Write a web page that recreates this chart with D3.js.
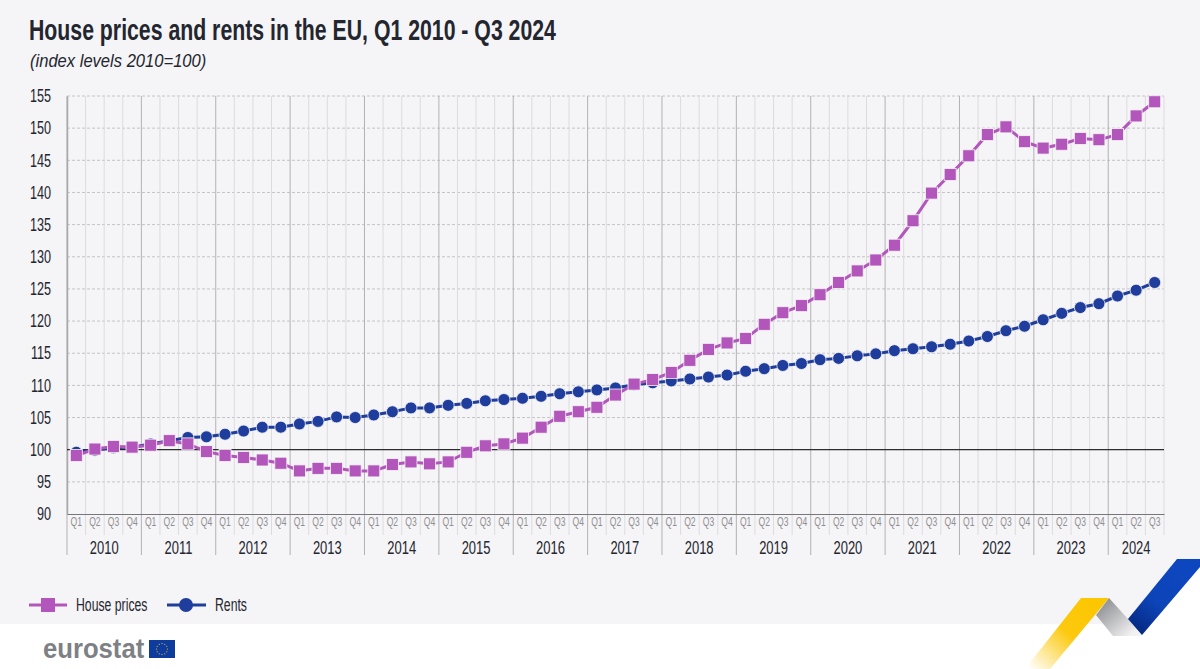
<!DOCTYPE html>
<html>
<head>
<meta charset="utf-8">
<script src="https://cdn.jsdelivr.net/npm/d3@7"></script>
<style>
    html, body { margin: 0; padding: 0; background: #fff; }
    svg { display: block; }
    text { font-family: "Liberation Sans", sans-serif; }
</style>
</head>
<body>
<svg id="chart"></svg>
<script>
const width = 1200;
const height = 669;

const years = ["2010", "2011", "2012", "2013", "2014", "2015", "2016", "2017", "2018", "2019", "2020", "2021", "2022", "2023", "2024"];
const quarterNames = ["Q1", "Q2", "Q3", "Q4"];
const yTicks = [90, 95, 100, 105, 110, 115, 120, 125, 130, 135, 140, 145, 150, 155];

const housePrices = [
    99.1, 100.1, 100.5, 100.4,
    100.7, 101.4, 100.9, 99.7,
    99.1, 98.8, 98.4, 97.9,
    96.7, 97.1, 97.1, 96.7,
    96.7, 97.7, 98.1, 97.8,
    98.1, 99.6, 100.6, 100.9,
    101.8, 103.5, 105.2, 105.9,
    106.6, 108.5, 110.2, 110.9,
    112.0, 113.9, 115.6, 116.6,
    117.3, 119.5, 121.3, 122.4,
    124.1, 126.0, 127.8, 129.5,
    131.8, 135.6, 139.9, 142.8,
    145.7, 149.0, 150.2, 147.9,
    146.9, 147.5, 148.4, 148.2,
    149.0, 151.9, 154.1
];
const rents = [
    99.6, 99.9, 100.3, 100.4,
    100.9, 101.4, 101.9, 102.0,
    102.4, 102.9, 103.5, 103.5,
    104.0, 104.4, 105.1, 105.0,
    105.4, 105.9, 106.5, 106.5,
    106.9, 107.2, 107.6, 107.8,
    108.0, 108.3, 108.7, 109.0,
    109.3, 109.6, 110.1, 110.4,
    110.7, 111.0, 111.3, 111.6,
    112.2, 112.6, 113.1, 113.4,
    114.0, 114.2, 114.6, 114.9,
    115.4, 115.7, 116.0, 116.4,
    116.9, 117.6, 118.5, 119.2,
    120.2, 121.2, 122.1, 122.7,
    123.9, 124.8, 126.0
];

const houseColour = "#b256bb";
const rentColour = "#1f3d9c";
const textColour = "#23262f";
const paper = "#f5f4f6";

// one band per quarter, the last year stops at Q3
const quarters = housePrices.map((d, i) => years[Math.floor(i / 4)] + "-" + quarterNames[i % 4]);

const margin = { top: 96, right: 36, bottom: 155, left: 67 };
const plotRight = width - margin.right;
const plotBottom = height - margin.bottom;

const xScale = d3.scaleBand().domain(quarters).range([margin.left, plotRight]);
const yScale = d3.scaleLinear().domain([90, 155]).range([plotBottom, margin.top]);

const svg = d3.select("#chart").attr("width", width).attr("height", height);

// no condensed font is installed, so squeeze the glyphs to the measured width
function narrow(selection, k) {
    selection.each(function () {
        this.setAttribute("textLength", this.getComputedTextLength() * k);
        this.setAttribute("lengthAdjust", "spacingAndGlyphs");
    });
}

// background and ribbon
const defs = svg.append("defs");

function addGradient(id, x1, y1, x2, y2, stops) {
    const g = defs.append("linearGradient")
        .attr("id", id)
        .attr("gradientUnits", "userSpaceOnUse")
        .attr("x1", x1).attr("y1", y1).attr("x2", x2).attr("y2", y2);
    stops.forEach(s => g.append("stop").attr("offset", s[0]).attr("stop-color", s[1]));
}
addGradient("yellow-grad", 1095, 600, 1030, 669, [[0, "#fcc600"], [0.45, "#fcc90f"], [1, "#ffffff"]]);
addGradient("grey-grad", 1098, 600, 1130, 636, [[0, "#85868a"], [1, "#f2f2f3"]]);
addGradient("blue-grad", 1190, 560, 1135, 632, [[0, "#0d47c0"], [0.6, "#0c44b8"], [1, "#06287f"]]);

svg.append("rect").attr("width", width).attr("height", height).attr("fill", "#ffffff");
svg.append("path")
    .attr("d", "M0,0H1200V567L1142,635L1109,624H0Z")
    .attr("fill", paper);

svg.append("path").attr("d", "M1109,598L1096,615L1113,636H1142L1128,619Z").attr("fill", "url(#grey-grad)");
svg.append("path").attr("d", "M1081,598H1109L1050,669H1025Z").attr("fill", "url(#yellow-grad)");
svg.append("path").attr("d", "M1177,559H1200V567L1142,635L1128,619Z").attr("fill", "url(#blue-grad)");

// grid
const grid = svg.append("g");
grid.selectAll(".h-grid")
    .data(yTicks.filter(d => d !== 90 && d !== 100))
    .join("line")
    .attr("class", "h-grid")
    .attr("x1", margin.left).attr("x2", plotRight)
    .attr("y1", d => yScale(d)).attr("y2", d => yScale(d))
    .attr("stroke", "#c4c4c6")
    .attr("stroke-width", 1)
    .attr("stroke-dasharray", "3 2");

grid.selectAll(".v-grid")
    .data(quarters)
    .join("line")
    .attr("class", "v-grid")
    .attr("x1", d => xScale(d)).attr("x2", d => xScale(d))
    .attr("y1", margin.top)
    .attr("y2", (d, i) => plotBottom + (i % 4 === 0 ? 41 : 21))
    .attr("stroke", (d, i) => i % 4 === 0 ? "#b2b2b4" : "#dcdcde")
    .attr("stroke-width", 1);

// right edge of the plot
grid.append("line")
    .attr("x1", plotRight).attr("x2", plotRight)
    .attr("y1", margin.top).attr("y2", plotBottom + 21)
    .attr("stroke", "#dcdcde");

// y axis
const yAxis = svg.append("g")
    .attr("transform", `translate(${margin.left},0)`)
    .call(d3.axisLeft(yScale).tickValues(yTicks).tickSize(0).tickPadding(16));
yAxis.select(".domain").attr("stroke", "#a9a9ab").attr("stroke-width", 1.5);
yAxis.selectAll("text")
    .attr("fill", textColour)
    .style("font-family", '"Liberation Sans"')
    .style("font-size", "18px")
    .call(narrow, 0.7);

// x axis, quarter labels
const xAxis = svg.append("g")
    .attr("transform", `translate(0,${plotBottom})`)
    .call(d3.axisBottom(xScale).tickSize(0).tickPadding(3).tickFormat(d => d.split("-")[1]));
xAxis.select(".domain").attr("stroke", "#77777a").attr("stroke-width", 1.2);
xAxis.selectAll("text")
    .attr("fill", "#8f8f92")
    .style("font-family", '"Liberation Sans"')
    .style("font-size", "13px")
    .call(narrow, 0.66);

// year labels centred under their quarters
svg.selectAll(".year-label")
    .data(years)
    .join("text")
    .attr("class", "year-label")
    .attr("x", d => {
        const own = quarters.filter(q => q.startsWith(d));
        return (xScale(own[0]) + xScale(own[own.length - 1]) + xScale.bandwidth()) / 2;
    })
    .attr("y", plotBottom + 40)
    .attr("text-anchor", "middle")
    .attr("fill", textColour)
    .style("font-size", "18px")
    .text(d => d)
    .call(narrow, 0.72);

// baseline at 100
svg.append("line")
    .attr("x1", margin.left).attr("x2", plotRight)
    .attr("y1", yScale(100)).attr("y2", yScale(100))
    .attr("stroke", "#2b2b30")
    .attr("stroke-width", 1.2);

// series
const xPos = i => xScale(quarters[i]) + xScale.bandwidth() / 2;
const line = d3.line().x((d, i) => xPos(i)).y(d => yScale(d));

svg.append("path")
    .datum(rents)
    .attr("d", line)
    .attr("fill", "none")
    .attr("stroke", rentColour)
    .attr("stroke-width", 3);
svg.selectAll(".rent-point")
    .data(rents)
    .join("circle")
    .attr("class", "rent-point")
    .attr("cx", (d, i) => xPos(i))
    .attr("cy", d => yScale(d))
    .attr("r", 6)
    .attr("fill", rentColour)
    .attr("stroke", paper)
    .attr("stroke-width", 0.8);

svg.append("path")
    .datum(housePrices)
    .attr("d", line)
    .attr("fill", "none")
    .attr("stroke", houseColour)
    .attr("stroke-width", 3);
svg.selectAll(".house-point")
    .data(housePrices)
    .join("rect")
    .attr("class", "house-point")
    .attr("x", (d, i) => xPos(i) - 6)
    .attr("y", d => yScale(d) - 6)
    .attr("width", 12)
    .attr("height", 12)
    .attr("fill", houseColour)
    .attr("stroke", paper)
    .attr("stroke-width", 0.8);

// title
svg.append("text")
    .attr("x", 29).attr("y", 40)
    .attr("fill", textColour)
    .style("font-size", "29px")
    .style("font-weight", "bold")
    .text("House prices and rents in the EU, Q1 2010 - Q3 2024")
    .call(narrow, 0.733);
svg.append("text")
    .attr("x", 30).attr("y", 67)
    .attr("fill", textColour)
    .style("font-size", "18px")
    .style("font-style", "italic")
    .text("(index levels 2010=100)")
    .call(narrow, 0.92);

// legend
const legendY = 605;
const legend = svg.append("g");
legend.append("line").attr("x1", 29).attr("x2", 67).attr("y1", legendY).attr("y2", legendY)
    .attr("stroke", houseColour).attr("stroke-width", 3);
legend.append("rect").attr("x", 41).attr("y", legendY - 7).attr("width", 14).attr("height", 14).attr("fill", houseColour);
legend.append("text").attr("x", 76).attr("y", legendY + 6).attr("fill", textColour).style("font-size", "18px").text("House prices").call(narrow, 0.68);
legend.append("line").attr("x1", 167).attr("x2", 206).attr("y1", legendY).attr("y2", legendY)
    .attr("stroke", rentColour).attr("stroke-width", 3);
legend.append("circle").attr("cx", 186).attr("cy", legendY).attr("r", 7).attr("fill", rentColour);
legend.append("text").attr("x", 215).attr("y", legendY + 6).attr("fill", textColour).style("font-size", "18px").text("Rents").call(narrow, 0.68);

// eurostat logo
svg.append("text")
    .attr("x", 43).attr("y", 658)
    .attr("fill", "#7d8084")
    .style("font-size", "27px")
    .style("font-weight", "bold")
    .text("eurostat")
    .call(narrow, 0.95);
svg.append("rect").attr("x", 149).attr("y", 640).attr("width", 26).attr("height", 18).attr("fill", "#0e3b9e");
svg.selectAll(".eu-star")
    .data(d3.range(12))
    .join("circle")
    .attr("class", "eu-star")
    .attr("cx", d => 162 + 5.5 * Math.cos(d * Math.PI / 6))
    .attr("cy", d => 649 + 5.5 * Math.sin(d * Math.PI / 6))
    .attr("r", 0.6)
    .attr("fill", "#f7d117");
</script>
</body>
</html>
